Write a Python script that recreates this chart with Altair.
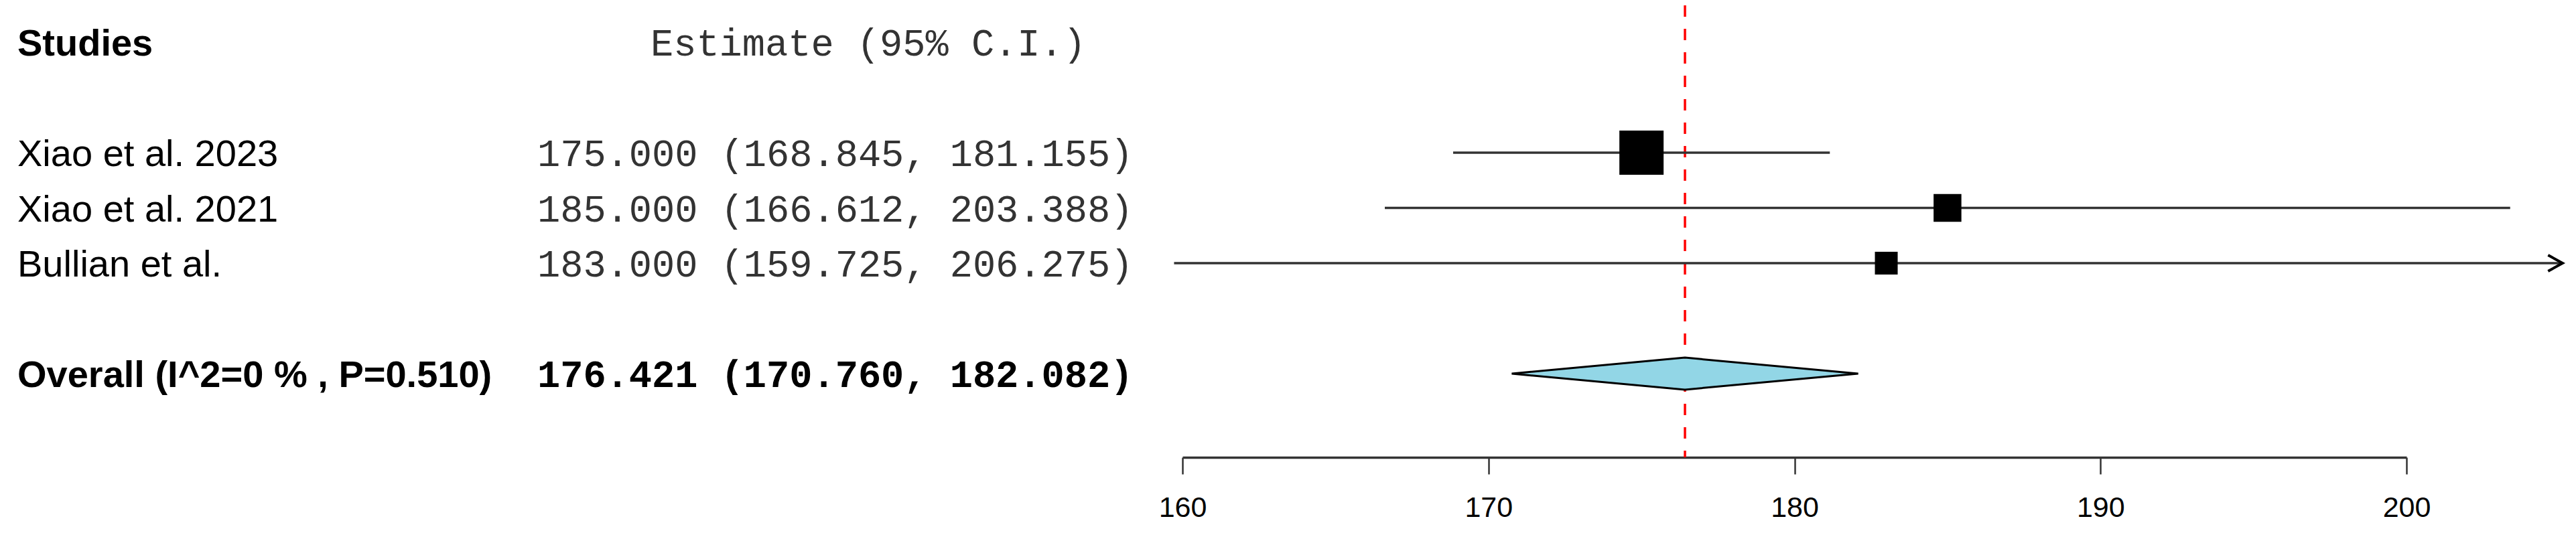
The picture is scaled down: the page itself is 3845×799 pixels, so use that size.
import altair as alt
import numpy as np
import pandas as pd

# ---------------- data ----------------
studies = ["Xiao et al. 2023", "Xiao et al. 2021", "Bullian et al."]
estimates = [175.000, 185.000, 183.000]
ci_lower = [168.845, 166.612, 159.725]
ci_upper = [181.155, 203.388, 206.275]

overall_label = "Overall (I^2=0 % , P=0.510)"
overall_estimate = 176.421
overall_lower = 170.760
overall_upper = 182.082

header_study = "Studies"
header_estimate = "Estimate (95% C.I.)"
axis_ticks = [160, 170, 180, 190, 200]

# ---------------- layout constants ----------------
W, H = 3829, 675
X_RANGE = [1757, 3584]          # pixel range for 160..200
X_CLIP = 205.1                  # right edge of plotting region
Y_DOMAIN = [0, 6]
Y_RANGE = [55, 550]
ROW_HEADER, ROW_FIRST, ROW_OVERALL = 0, 2, 6
DIAMOND_HALF = 0.29             # in row units
SANS = "Liberation Sans"
MONO = "Liberation Mono"

xscale = alt.Scale(domain=[axis_ticks[0], axis_ticks[-1]], range=X_RANGE,
                   zero=False, nice=False)
yscale = alt.Scale(domain=Y_DOMAIN, range=Y_RANGE, zero=False, nice=False)
xaxis = alt.Axis(values=axis_ticks, format="d", title=None, grid=False,
                 domainColor="#333333", domainWidth=3.5,
                 tickColor="#333333", tickWidth=2.5, tickSize=25,
                 labelFont=SANS, labelFontSize=43, labelColor="black",
                 labelPadding=29, labelFlush=False, labelOverlap=False)
Y = alt.Y("row:Q", scale=yscale, axis=None)

# ---------------- frames ----------------
z = 1.959964
se = (np.array(ci_upper) - np.array(ci_lower)) / (2 * z)
weights = 1.0 / se ** 2

sdf = pd.DataFrame({
    "label": studies,
    "est": estimates,
    "lo": ci_lower,
    "hi": ci_upper,
    "row": [ROW_FIRST + i for i in range(len(studies))],
    "weight": weights,
})
sdf["hi_draw"] = np.minimum(sdf["hi"], X_CLIP)
sdf["txt"] = [f"{e:.3f} ({l:.3f}, {h:.3f})" for e, l, h in zip(estimates, ci_lower, ci_upper)]
arrows = sdf[sdf["hi"] > X_CLIP].copy()
arrows["xa"] = X_CLIP

odf = pd.DataFrame({
    "label": [overall_label],
    "est": [overall_estimate],
    "lo": [overall_lower],
    "hi": [overall_upper],
    "row": [ROW_OVERALL],
    "txt": [f"{overall_estimate:.3f} ({overall_lower:.3f}, {overall_upper:.3f})"],
})

shape = np.array([0.0, 1.0, 0.0])
ddf = pd.DataFrame({
    "x": [overall_lower, overall_estimate, overall_upper],
    "y1": ROW_OVERALL - DIAMOND_HALF * shape,
    "y2": ROW_OVERALL + DIAMOND_HALF * shape,
})

hdf = pd.DataFrame({"row": [ROW_HEADER], "study": [header_study], "est": [header_estimate]})

# ---------------- layers ----------------
ci_lines = alt.Chart(sdf).mark_rule(color="#333333", strokeWidth=3.5).encode(
    x=alt.X("lo:Q", scale=xscale, axis=xaxis),
    x2="hi_draw:Q",
    y=Y,
)

boxes = alt.Chart(sdf).mark_square(color="black", filled=True, opacity=1).encode(
    x=alt.X("est:Q", scale=xscale, axis=xaxis),
    y=Y,
    size=alt.Size("weight:Q", legend=None,
                  scale=alt.Scale(type="log", domain=[float(weights.min()), float(weights.max())],
                                  range=[34 ** 2, 66 ** 2], nice=False, zero=False)),
)

arrow_heads = alt.Chart(arrows).mark_point(
    shape="M-1.8,-1L0,0L-1.8,1", filled=False, color="black",
    strokeWidth=4, size=576, opacity=1,
).encode(
    x=alt.X("xa:Q", scale=xscale, axis=xaxis),
    y=Y,
)

diamond = alt.Chart(ddf).mark_area(
    orient="vertical", color="#92d6e6", stroke="black", strokeWidth=3, opacity=1,
).encode(
    x=alt.X("x:Q", scale=xscale, axis=xaxis),
    y=alt.Y("y1:Q", scale=yscale, axis=None),
    y2="y2:Q",
)

ref_line = alt.Chart(odf).mark_rule(color="#ff0000", strokeWidth=3.5, strokeDash=[17, 18]).encode(
    x=alt.X("est:Q", scale=xscale, axis=xaxis),
)

def text_layer(df, field, xpix, font, size, weight="normal", color="black"):
    return alt.Chart(df).mark_text(
        align="left", baseline="middle", font=font, fontSize=size,
        fontWeight=weight, color=color, dy=3,
    ).encode(x=alt.value(xpix), y=Y, text=f"{field}:N")

t_head_study = text_layer(hdf, "study", 18, SANS, 56, "bold")
t_head_est = text_layer(hdf, "est", 963, MONO, 57, color="#333333")
t_labels = text_layer(sdf, "label", 18, SANS, 56)
t_est = text_layer(sdf, "txt", 794, MONO, 57, color="#333333")
t_overall = text_layer(odf, "label", 18, SANS, 56, "bold")
t_overall_est = text_layer(odf, "txt", 794, MONO, 57, "bold")

chart = alt.layer(
    ref_line, ci_lines, boxes, arrow_heads, diamond,
    t_head_study, t_head_est, t_labels, t_est, t_overall, t_overall_est,
).properties(
    width=W, height=H,
    autosize=alt.AutoSizeParams(type="none"),
    padding={"left": 0, "top": 0, "right": 0, "bottom": 108},
    background="white",
).configure_view(stroke=None)

chart.save("out.html", embed_options={"renderer": "svg", "actions": False})
